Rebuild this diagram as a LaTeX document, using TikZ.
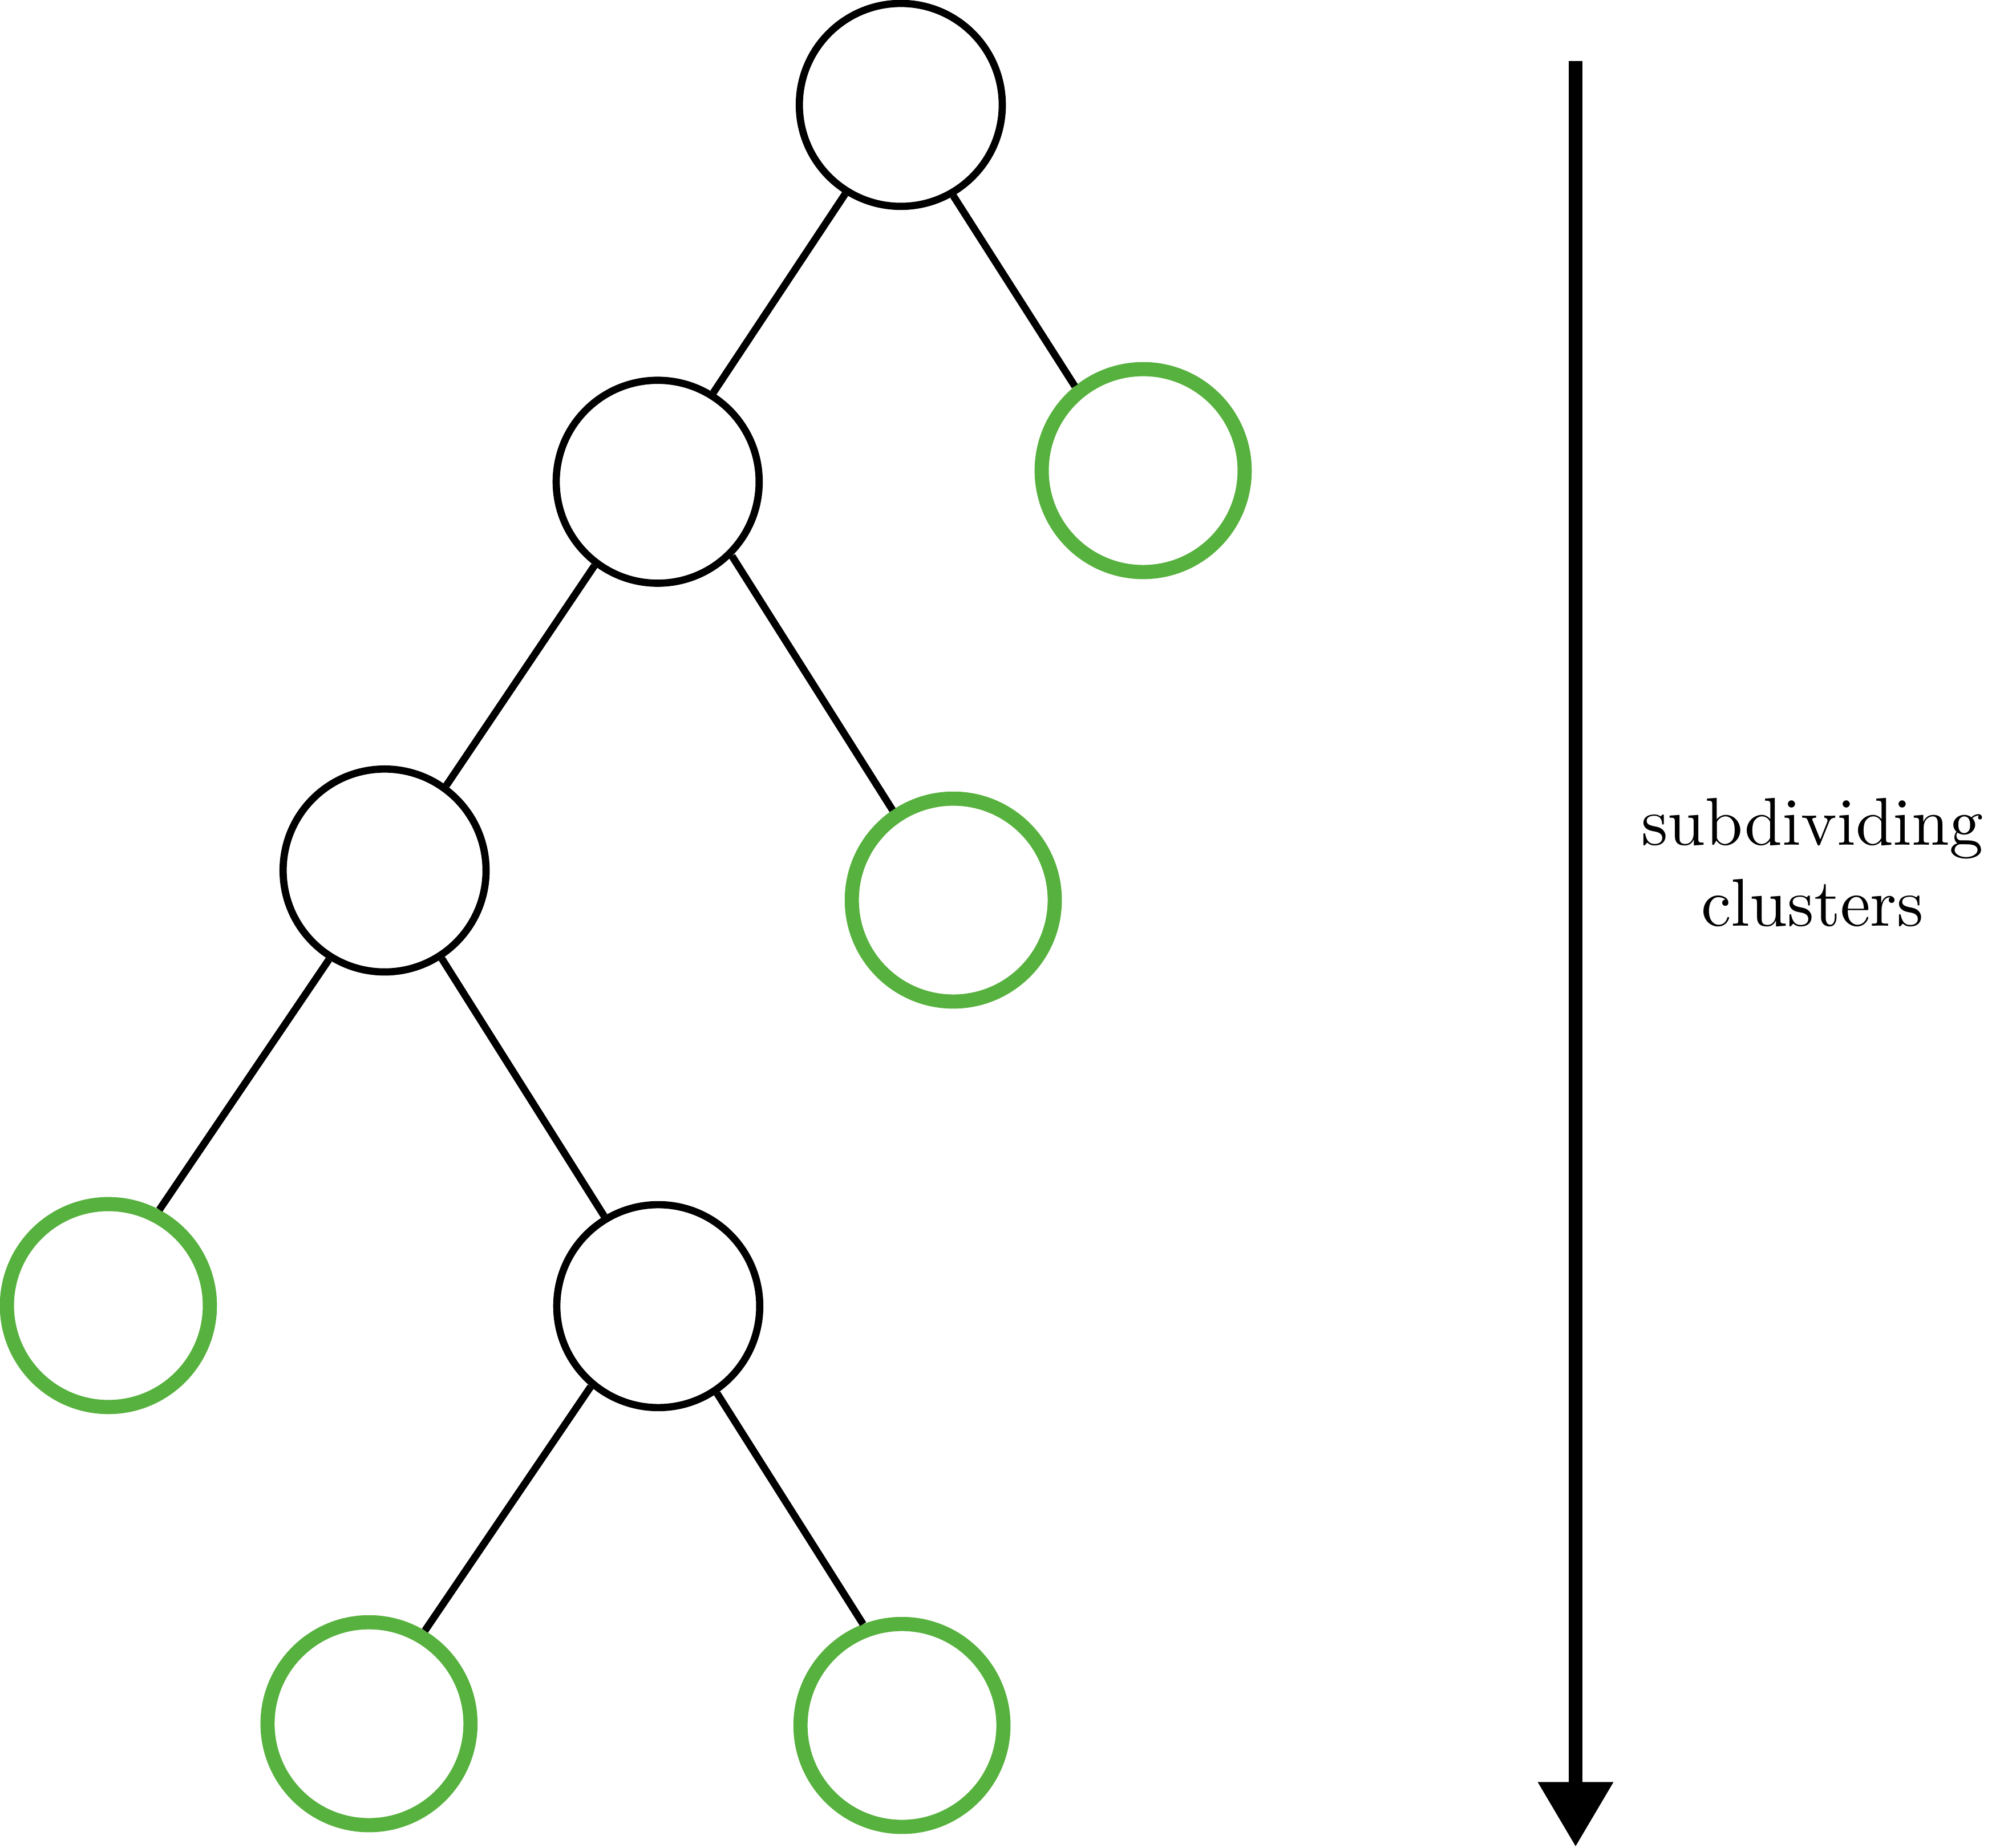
\documentclass[tikz,border=0pt]{standalone}
\usepackage{amsmath, tikz}
\usetikzlibrary{arrows.meta}
\definecolor{leafgreen}{RGB}{87,177,62}
\tikzset{>=stealth}
\tikzset{cluster/.style={circle, draw, line width=1.07pt, minimum size=1.056cm, inner sep=0pt}}
\tikzset{leaf/.style={cluster, draw=leafgreen, line width=2.1pt}}

\begin{document}
\begin{tikzpicture}
    \useasboundingbox (0,0) rectangle (10.427,-9.614);
    \node [cluster] (root) at (4.687,-0.546) {};
    \node [cluster] (A) at (3.422,-2.507) {};
    \node [leaf] (B) at (5.948,-2.449) {};
    \node [cluster] (AA) at (2.001,-4.530) {};
    \node [leaf] (AB) at (4.960,-4.684) {};
    \node [leaf] (AAA) at (0.564,-6.794) {};
    \node [cluster] (AAB) at (3.425,-6.797) {};
    \node [leaf] (AABA) at (1.920,-8.970) {};
    \node [leaf] (AABB) at (4.693,-8.979) {};
    \draw [line width=1.07pt] (root.238) -- (A.58);
    \draw [line width=1.07pt] (root.300) -- (B.129);
    \draw [line width=1.07pt] (A.233) -- (AA.54);
    \draw [line width=1.07pt] (A.315) -- (AB.124);
    \draw [line width=1.07pt] (AA.238) -- (AAA.62);
    \draw [line width=1.07pt] (AA.303) -- (AAB.121);
    \draw [line width=1.07pt] (AAB.230) -- (AABA.59);
    \draw [line width=1.07pt] (AAB.304) -- (AABB.111);
    \coordinate (top) at (8.198,-0.318);
    \coordinate (bottom) at (8.198,-9.611);
    \draw [line width=2.1pt, -{Triangle[width=10.6pt, length=9.6pt]}] (top) -- (bottom);
    \node [align=center] (label) at (9.43,-4.488) {subdividing\\clusters};
\end{tikzpicture}
\end{document}
